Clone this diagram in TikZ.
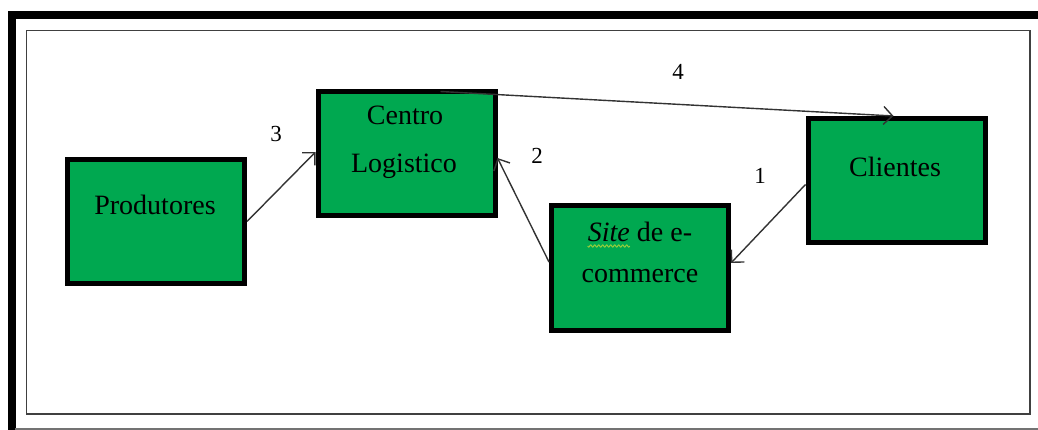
\documentclass[tikz,border=0pt]{standalone}
\usepackage{fontspec}
\setmainfont{Liberation Serif}
\usetikzlibrary{arrows.meta}
\definecolor{boxgreen}{RGB}{0,168,80}
\definecolor{spell}{RGB}{150,205,60}
\begin{document}
\begin{tikzpicture}[x=1pt,y=-1pt,
  box/.style={draw=black,fill=boxgreen,line width=5pt,minimum width=177pt,minimum height=124pt,inner sep=0pt},
  lbl/.style={anchor=base,font=\fontsize{28}{32}\selectfont,inner sep=0pt},
  num/.style={anchor=base,font=\fontsize{23}{26}\selectfont,inner sep=0pt},
  link/.style={draw=black!80,line width=1.4pt,-{Straight Barb[length=9pt,width=18pt,line width=1.4pt]}}]
\useasboundingbox (0,0) rectangle (1038,430);
\fill[white] (0,0) rectangle (1038,430);
% frames
\draw[line width=7.5pt,line join=miter] (11.75,445) |- (1050,15);
\draw[black!55,line width=1.5pt] (15,429) -- (1038,429);
\draw[black!75,line width=1.5pt] (26.5,30.5) rectangle (1030,414);
% boxes
\node[box] (prod) at (156,221.5) {};
\node[box] (cent) at (406.5,154) {};
\node[box] (site) at (640,268) {};
\node[box] (cli) at (896.5,180.5) {};
% texts
\node[lbl] (tprod) at (155,215) {Produtores};
\node[lbl] (tcent1) at (405,125) {Centro};
\node[lbl] (tcent2) at (404,173) {Logistico};
\node[lbl] (tsite1) at (640,242) {\textit{Site} de e-};
\node[lbl] (tsite2) at (640,282) {commerce};
\node[lbl] (tcli) at (895,177) {Clientes};
\begin{scope}[shift={(tsite1.base west)}]
  \draw[spell,line width=1pt] plot[domain=0:42,samples=85,smooth] (\x,{4+1.1*sin(\x*90)});
\end{scope}
% connectors
\draw[link] (prod.east) -- ([yshift=2pt]cent.west);
\draw[link] ([yshift=6pt]site.west) -- ([yshift=-4pt]cent.east);
\draw[link] ([yshift=-4pt]cli.west) -- ([yshift=5pt]site.east);
\draw[link] ([xshift=-57pt,yshift=-2pt]cent.north east) -- ([xshift=-3pt]cli.north);
% numbers
\node[num] (n3) at (276,142) {3};
\node[num] (n2) at (537,164) {2};
\node[num] (n1) at (760,184) {1};
\node[num] (n4) at (678,80) {4};
\end{tikzpicture}
\end{document}
